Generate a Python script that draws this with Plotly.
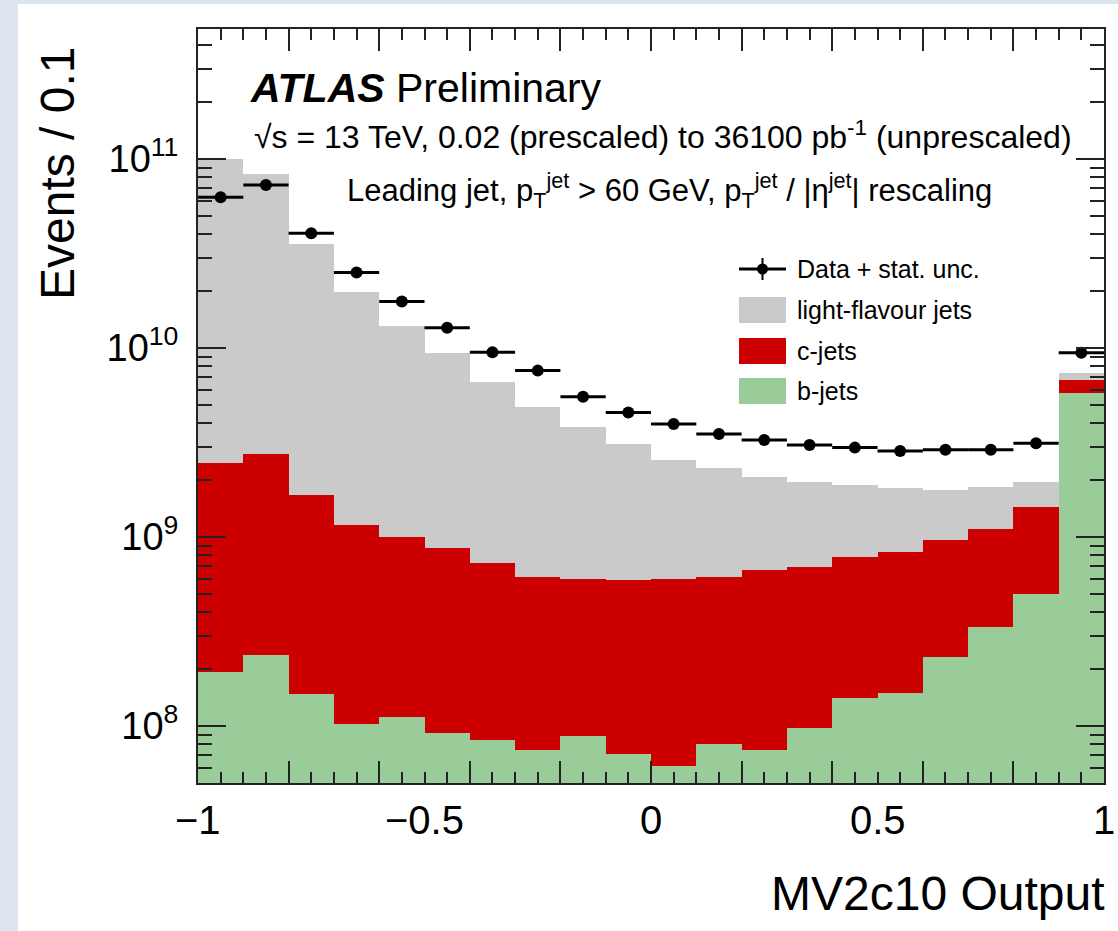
import plotly.graph_objects as go

# ---------------- data ----------------
bin_centers = [-0.95, -0.85, -0.75, -0.65, -0.55, -0.45, -0.35, -0.25, -0.15, -0.05,
               0.05, 0.15, 0.25, 0.35, 0.45, 0.55, 0.65, 0.75, 0.85, 0.95]
bin_half_width = [0.05] * 20

b_jets = [1.94e8, 2.38e8, 1.47e8, 1.03e8, 1.12e8, 9.17e7, 8.44e7, 7.47e7, 8.8e7, 7.1e7,
          6.15e7, 8.0e7, 7.5e7, 9.7e7, 1.40e8, 1.50e8, 2.31e8, 3.35e8, 4.98e8, 5.75e9]
c_jets = [2.28e9, 2.51e9, 1.53e9, 1.05e9, 8.88e8, 7.78e8, 6.41e8, 5.41e8, 5.12e8, 5.19e8,
          5.36e8, 5.32e8, 5.94e8, 5.99e8, 6.47e8, 6.86e8, 7.33e8, 7.65e8, 9.42e8, 1.05e9]
light_jets = [9.75e10, 8.03e10, 3.38e10, 1.875e10, 1.20e10, 8.53e9, 5.88e9, 4.28e9, 3.23e9, 2.51e9,
              1.95e9, 1.70e9, 1.41e9, 1.26e9, 1.09e9, 9.74e8, 8.06e8, 7.3e8, 5.2e8, 6.0e8]
data_vals = [6.27e10, 7.28e10, 4.05e10, 2.51e10, 1.76e10, 1.28e10, 9.5e9, 7.59e9, 5.52e9, 4.55e9,
             3.96e9, 3.51e9, 3.26e9, 3.07e9, 2.97e9, 2.85e9, 2.89e9, 2.89e9, 3.13e9, 9.44e9]

x_label_vals = [-1, -0.5, 0, 0.5, 1]
x_label_text = ["\u22121", "\u22120.5", "0", "0.5", "1"]
y_tick_vals = [1e8, 1e9, 1e10, 1e11]
y_tick_text = ["10<sup>8</sup>", "10<sup>9</sup>", "10<sup>10</sup>", "10<sup>11</sup>"]
y_minor_vals = [k * 10 ** e for e in range(7, 12) for k in range(2, 10)]

legend_labels = ["Data + stat. unc.", "light-flavour jets", "c-jets", "b-jets"]

GREY = "#cacaca"
RED = "#cc0000"
GREEN = "#99cc99"
FONT = "Liberation Sans, Arial, Helvetica, sans-serif"

fig = go.Figure()
for vals, col, name in [(b_jets, GREEN, "b-jets"), (c_jets, RED, "c-jets"),
                        (light_jets, GREY, "light-flavour jets")]:
    fig.add_trace(go.Bar(x=bin_centers, y=vals, width=0.1, marker=dict(color=col, line=dict(width=0)),
                         name=name, showlegend=False))

fig.add_trace(go.Scatter(
    x=bin_centers, y=data_vals, mode="markers",
    marker=dict(color="black", size=12),
    error_x=dict(type="data", array=bin_half_width, color="black", thickness=3, width=0),
    showlegend=False, name="Data"))

# plot area in px: x 198..1104, y 29..783
W, H = 1118, 931
L, R, T, B = 198, 1104, 29, 783
def px(X):
    return (X - L) / (R - L)
def py(Y):
    return (B - Y) / (B - T)

axis_common = dict(showline=True, linecolor="#222222", linewidth=2, mirror="ticks",
                   ticks="inside", tickcolor="#222222", tickwidth=2, showgrid=False, zeroline=False)

fig.update_layout(
    width=W, height=H,
    margin=dict(l=L, r=W - R, t=T, b=H - B),
    paper_bgcolor="#dde5f0", plot_bgcolor="white",
    barmode="stack", bargap=0,
    font=dict(family=FONT, color="black"),
    xaxis=dict(range=[-1, 1], dtick=0.2, tick0=-1, ticklen=22, showticklabels=False,
               minor=dict(dtick=0.05, tick0=-1, ticklen=11, ticks="inside", tickcolor="#222222", tickwidth=2),
               **axis_common),
    yaxis=dict(type="log", range=[7.698, 11.688], tickvals=y_tick_vals, ticktext=y_tick_text,
               ticklen=28, tickfont=dict(size=38), ticklabelstandoff=10,
               minor=dict(tickvals=y_minor_vals, ticklen=14, ticks="inside", tickcolor="#222222", tickwidth=2),
               **axis_common),
)

# white page behind the chart
fig.add_shape(type="rect", xref="paper", yref="paper", x0=px(18), x1=px(1130), y0=py(940), y1=py(4),
              fillcolor="white", line=dict(width=0), layer="below")

ann = []
for v, t in zip(x_label_vals, x_label_text):
    ann.append(dict(x=v, y=py(820), xref="x", yref="paper", text=t, showarrow=False,
                    xanchor="center", yanchor="middle", font=dict(size=40)))
ann.append(dict(x=px(1107), y=py(893), xref="paper", yref="paper", text="MV2c10 Output",
                showarrow=False, xanchor="right", yanchor="middle", font=dict(size=48)))
ann.append(dict(x=px(57), y=py(174), xref="paper", yref="paper", text="Events / 0.1", textangle=-90,
                showarrow=False, xanchor="center", yanchor="middle", font=dict(size=48)))
ann.append(dict(x=px(248), y=py(88), xref="paper", yref="paper",
                text="<b><i>ATLAS</i></b> Preliminary", showarrow=False,
                xanchor="left", yanchor="middle", font=dict(size=41)))
ann.append(dict(x=px(252), y=py(135), xref="paper", yref="paper",
                text="\u221As = 13 TeV, 0.02 (prescaled) to 36100 pb<sup>-1</sup> (unprescaled)",
                showarrow=False, xanchor="left", yanchor="middle", font=dict(size=32)))
ann.append(dict(x=px(345), y=py(190), xref="paper", yref="paper",
                text="Leading jet, p<sub>T</sub><sup>jet</sup> > 60 GeV, p<sub>T</sub><sup>jet</sup> / |\u03b7<sup>jet</sup>| rescaling",
                showarrow=False, xanchor="left", yanchor="middle", font=dict(size=31)))

# legend (drawn manually)
leg_y = [269, 310, 351, 391]
leg_cols = [None, GREY, RED, GREEN]
for yy, lab, col in zip(leg_y, legend_labels, leg_cols):
    ann.append(dict(x=px(795), y=py(yy), xref="paper", yref="paper", text=lab, showarrow=False,
                    xanchor="left", yanchor="middle", font=dict(size=25)))
    if col is not None:
        fig.add_shape(type="rect", xref="paper", yref="paper", x0=px(739), x1=px(786),
                      y0=py(yy + 13), y1=py(yy - 13), fillcolor=col, line=dict(width=0))
# data legend symbol
fig.add_shape(type="line", xref="paper", yref="paper", x0=px(739), x1=px(786), y0=py(269), y1=py(269),
              line=dict(color="black", width=3))
fig.add_shape(type="line", xref="paper", yref="paper", x0=px(762.5), x1=px(762.5), y0=py(258), y1=py(280),
              line=dict(color="black", width=2))
fig.add_shape(type="circle", xref="paper", yref="paper", x0=px(757), x1=px(768), y0=py(274.5), y1=py(263.5),
              fillcolor="black", line=dict(width=0))

fig.update_layout(annotations=ann)
fig.write_html("out.html")
